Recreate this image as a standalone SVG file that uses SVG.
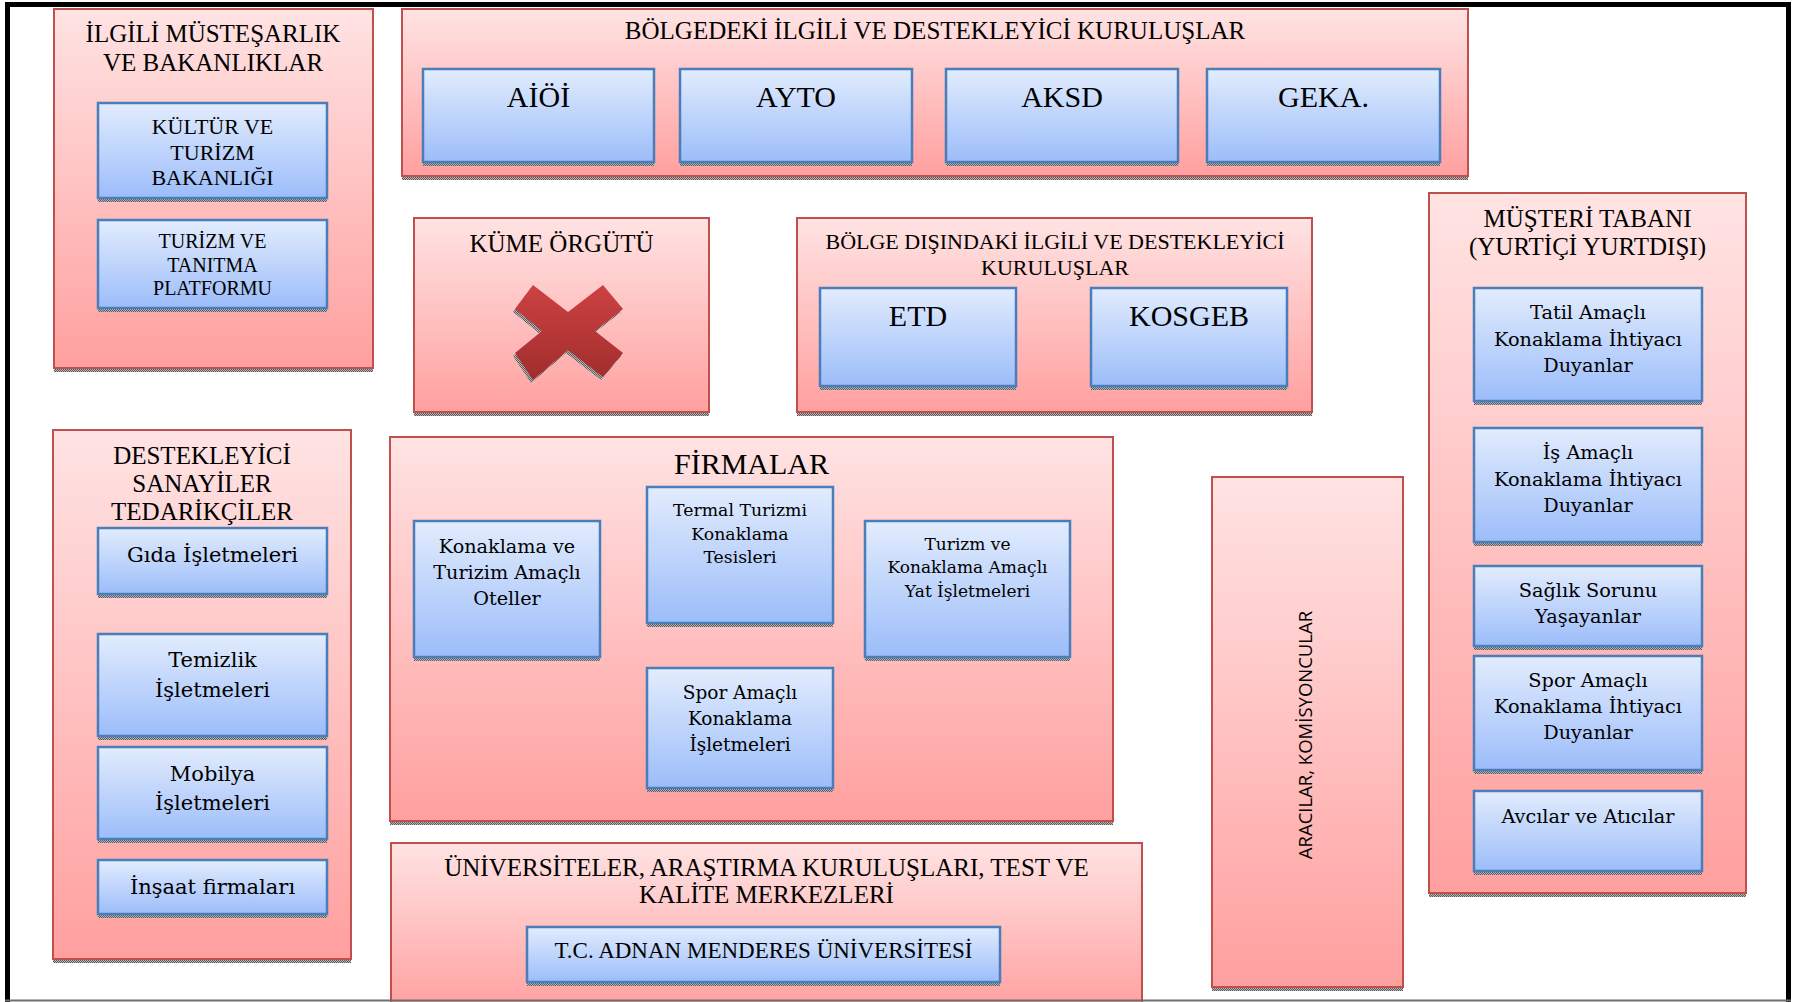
<svg xmlns="http://www.w3.org/2000/svg" width="1794" height="1002" viewBox="0 0 1794 1002">
<defs>
<linearGradient id="gR" x1="0" y1="0" x2="0" y2="1"><stop offset="0" stop-color="#ffe3e3"/><stop offset="1" stop-color="#ffa09f"/></linearGradient>
<linearGradient id="gB" x1="0" y1="0" x2="0" y2="1"><stop offset="0" stop-color="#e2ecfd"/><stop offset="1" stop-color="#9cbdfa"/></linearGradient>
<linearGradient id="gX" x1="0" y1="0" x2="0" y2="1"><stop offset="0" stop-color="#cd4242"/><stop offset="1" stop-color="#a12d2d"/></linearGradient>
<pattern id="sh" width="2" height="2" patternUnits="userSpaceOnUse"><rect width="2" height="2" fill="#b8b8b8"/><rect width="1" height="1" fill="#5a5a5a"/><rect x="1" y="1" width="1" height="1" fill="#5a5a5a"/></pattern>
<style>
.o{fill:url(#gR);stroke:#c0504d;stroke-width:2}
.i{fill:url(#gB);stroke:#4a7ebb;stroke-width:2.5}
.s{fill:url(#sh)}
text{fill:#000;text-anchor:middle}
.t{font-family:"Liberation Serif","Times New Roman",serif}
.c{font-family:"DejaVu Serif","Liberation Serif",serif}
.a{font-family:"Open Sans","Liberation Sans",sans-serif}
</style>
</defs>
<rect x="0" y="0" width="1794" height="1002" fill="#fff"/>

<g id="ilgili-mustesarlik">
<rect class="s" x="54" y="369" width="319" height="3"/>
<rect class="o" x="54" y="9" width="319" height="359"/>
<text class="t" font-size="25" x="213" y="42">İLGİLİ MÜSTEŞARLIK</text>
<text class="t" font-size="25" x="213" y="71">VE BAKANLIKLAR</text>
<g id="kultur-turizm">
<rect class="s" x="98" y="199" width="229" height="3"/>
<rect class="i" x="98" y="103" width="229" height="95"/>
<text class="t" font-size="22"><tspan x="212.5" y="134">KÜLTÜR VE</tspan><tspan x="212.5" y="160">TURİZM</tspan><tspan x="212.5" y="185">BAKANLIĞI</tspan></text>
</g>
<g id="turizm-tanitma">
<rect class="s" x="98" y="309" width="229" height="3"/>
<rect class="i" x="98" y="220" width="229" height="88"/>
<text class="t" font-size="20"><tspan x="212.5" y="248">TURİZM VE</tspan><tspan x="212.5" y="272">TANITMA</tspan><tspan x="212.5" y="295">PLATFORMU</tspan></text>
</g>
</g>

<g id="bolgedeki">
<rect class="s" x="402" y="177" width="1066" height="3"/>
<rect class="o" x="402" y="9" width="1066" height="167"/>
<text class="t" font-size="25" x="935" y="39">BÖLGEDEKİ İLGİLİ VE DESTEKLEYİCİ KURULUŞLAR</text>
<g id="aioi"><rect class="s" x="423" y="163" width="231" height="3"/><rect class="i" x="423" y="69" width="231" height="93"/><text class="t" font-size="30" x="538.5" y="107">AİÖİ</text></g>
<g id="ayto"><rect class="s" x="680" y="163" width="232" height="3"/><rect class="i" x="680" y="69" width="232" height="93"/><text class="t" font-size="30" x="796" y="107">AYTO</text></g>
<g id="aksd"><rect class="s" x="946" y="163" width="232" height="3"/><rect class="i" x="946" y="69" width="232" height="93"/><text class="t" font-size="30" x="1062" y="107">AKSD</text></g>
<g id="geka"><rect class="s" x="1207" y="163" width="233" height="3"/><rect class="i" x="1207" y="69" width="233" height="93"/><text class="t" font-size="30" x="1323.5" y="107">GEKA.</text></g>
</g>

<g id="kume-orgutu">
<rect class="s" x="414" y="413" width="295" height="3"/>
<rect class="o" x="414" y="218" width="295" height="194"/>
<text class="t" font-size="25" x="561.5" y="252">KÜME ÖRGÜTÜ</text>
<polygon fill="url(#sh)" points="513,312 531,288 566,315 601,288 621,312 593,334 621,356 601,380 566,353 531,383 513,356 540,334"/>
<polygon fill="url(#gX)" points="515,309 533,285 568,312 603,285 623,309 595,331 623,353 603,377 568,350 533,380 515,353 542,331"/>
</g>

<g id="bolge-disindaki">
<rect class="s" x="797" y="413" width="515" height="3"/>
<rect class="o" x="797" y="218" width="515" height="194"/>
<text class="t" font-size="22"><tspan x="1055" y="249">BÖLGE DIŞINDAKİ İLGİLİ VE DESTEKLEYİCİ</tspan><tspan x="1055" y="275">KURULUŞLAR</tspan></text>
<g id="etd"><rect class="s" x="820" y="387" width="196" height="3"/><rect class="i" x="820" y="288" width="196" height="98"/><text class="t" font-size="30" x="918" y="326">ETD</text></g>
<g id="kosgeb"><rect class="s" x="1091" y="387" width="196" height="3"/><rect class="i" x="1091" y="288" width="196" height="98"/><text class="t" font-size="30" x="1189" y="326">KOSGEB</text></g>
</g>

<g id="musteri-tabani">
<rect class="s" x="1429" y="894" width="317" height="3"/>
<rect class="o" x="1429" y="193" width="317" height="700"/>
<text class="t" font-size="25"><tspan x="1587.5" y="227">MÜŞTERİ TABANI</tspan><tspan x="1587.5" y="255">(YURTİÇİ YURTDIŞI)</tspan></text>
<g id="tatil"><rect class="s" x="1474" y="402" width="228" height="3"/><rect class="i" x="1474" y="288" width="228" height="113"/>
<text class="c" font-size="19.3"><tspan x="1588" y="319">Tatil Amaçlı</tspan><tspan x="1588" y="346">Konaklama İhtiyacı</tspan><tspan x="1588" y="372">Duyanlar</tspan></text></g>
<g id="is"><rect class="s" x="1474" y="543" width="228" height="3"/><rect class="i" x="1474" y="428" width="228" height="114"/>
<text class="c" font-size="19.3"><tspan x="1588" y="459">İş Amaçlı</tspan><tspan x="1588" y="486">Konaklama İhtiyacı</tspan><tspan x="1588" y="512">Duyanlar</tspan></text></g>
<g id="saglik"><rect class="s" x="1474" y="647" width="228" height="3"/><rect class="i" x="1474" y="566" width="228" height="80"/>
<text class="c" font-size="19.3"><tspan x="1588" y="597">Sağlık Sorunu</tspan><tspan x="1588" y="623">Yaşayanlar</tspan></text></g>
<g id="spor-musteri"><rect class="s" x="1474" y="771" width="228" height="3"/><rect class="i" x="1474" y="656" width="228" height="114"/>
<text class="c" font-size="19.3"><tspan x="1588" y="687">Spor Amaçlı</tspan><tspan x="1588" y="713">Konaklama İhtiyacı</tspan><tspan x="1588" y="739">Duyanlar</tspan></text></g>
<g id="avcilar"><rect class="s" x="1474" y="872" width="228" height="3"/><rect class="i" x="1474" y="791" width="228" height="80"/>
<text class="c" font-size="19.2" x="1588" y="823">Avcılar ve Atıcılar</text></g>
</g>

<g id="destekleyici-sanayiler">
<rect class="s" x="53" y="960" width="298" height="3"/>
<rect class="o" x="53" y="430" width="298" height="529"/>
<text class="t" font-size="25"><tspan x="202" y="464">DESTEKLEYİCİ</tspan><tspan x="202" y="492">SANAYİLER</tspan><tspan x="202" y="520">TEDARİKÇİLER</tspan></text>
<g id="gida"><rect class="s" x="98" y="595" width="229" height="3"/><rect class="i" x="98" y="528" width="229" height="66"/><text class="c" font-size="21" x="212.5" y="562">Gıda İşletmeleri</text></g>
<g id="temizlik"><rect class="s" x="98" y="737" width="229" height="3"/><rect class="i" x="98" y="634" width="229" height="102"/><text class="c" font-size="21"><tspan x="212.5" y="667">Temizlik</tspan><tspan x="212.5" y="697">İşletmeleri</tspan></text></g>
<g id="mobilya"><rect class="s" x="98" y="840" width="229" height="3"/><rect class="i" x="98" y="747" width="229" height="92"/><text class="c" font-size="21"><tspan x="212.5" y="781">Mobilya</tspan><tspan x="212.5" y="810">İşletmeleri</tspan></text></g>
<g id="insaat"><rect class="s" x="98" y="915" width="229" height="3"/><rect class="i" x="98" y="860" width="229" height="54"/><text class="c" font-size="21" x="212.5" y="894">İnşaat firmaları</text></g>
</g>

<g id="firmalar">
<rect class="s" x="390" y="822" width="723" height="3"/>
<rect class="o" x="390" y="437" width="723" height="384"/>
<text class="t" font-size="30" x="751.5" y="474">FİRMALAR</text>
<g id="oteller"><rect class="s" x="414" y="658" width="186" height="3"/><rect class="i" x="414" y="521" width="186" height="136"/>
<text class="c" font-size="19.2"><tspan x="507" y="553">Konaklama ve</tspan><tspan x="507" y="579">Turizim Amaçlı</tspan><tspan x="507" y="605">Oteller</tspan></text></g>
<g id="termal"><rect class="s" x="647" y="624" width="186" height="3"/><rect class="i" x="647" y="487" width="186" height="136"/>
<text class="c" font-size="17.3"><tspan x="740" y="516">Termal Turizmi</tspan><tspan x="740" y="540">Konaklama</tspan><tspan x="740" y="563">Tesisleri</tspan></text></g>
<g id="yat"><rect class="s" x="865" y="658" width="205" height="3"/><rect class="i" x="865" y="521" width="205" height="136"/>
<text class="c" font-size="17"><tspan x="967.5" y="550">Turizm ve</tspan><tspan x="967.5" y="573">Konaklama Amaçlı</tspan><tspan x="967.5" y="597">Yat İşletmeleri</tspan></text></g>
<g id="spor-firma"><rect class="s" x="647" y="789" width="186" height="3"/><rect class="i" x="647" y="668" width="186" height="120"/>
<text class="c" font-size="18.5"><tspan x="740" y="699">Spor Amaçlı</tspan><tspan x="740" y="725">Konaklama</tspan><tspan x="740" y="751">İşletmeleri</tspan></text></g>
</g>

<g id="aracilar">
<rect class="s" x="1212" y="988" width="191" height="3"/>
<rect class="o" x="1212" y="477" width="191" height="510"/>
<text class="a" font-size="18.5" transform="translate(1312,735) rotate(-90)" x="0" y="0">ARACILAR, KOMİSYONCULAR</text>
</g>

<g id="universiteler">
<rect class="o" x="391" y="843" width="751" height="170"/>
<text class="t" font-size="25"><tspan x="766.5" y="876">ÜNİVERSİTELER, ARAŞTIRMA KURULUŞLARI, TEST VE</tspan><tspan x="766.5" y="903">KALİTE MERKEZLERİ</tspan></text>
<g id="adnan-menderes"><rect class="s" x="527" y="983" width="473" height="3"/><rect class="i" x="527" y="927" width="473" height="55"/>
<text class="t" font-size="23" x="763.5" y="958">T.C. ADNAN MENDERES ÜNİVERSİTESİ</text></g>
</g>

<g id="connectors"></g>

<g id="frame">
<path d="M7.5,1002 V4.5 H1788.5 V1002" fill="none" stroke="#000" stroke-width="5"/>
<line x1="5" y1="1000.5" x2="1791" y2="1000.5" stroke="#6e6e6e" stroke-width="2"/>
</g>
</svg>
